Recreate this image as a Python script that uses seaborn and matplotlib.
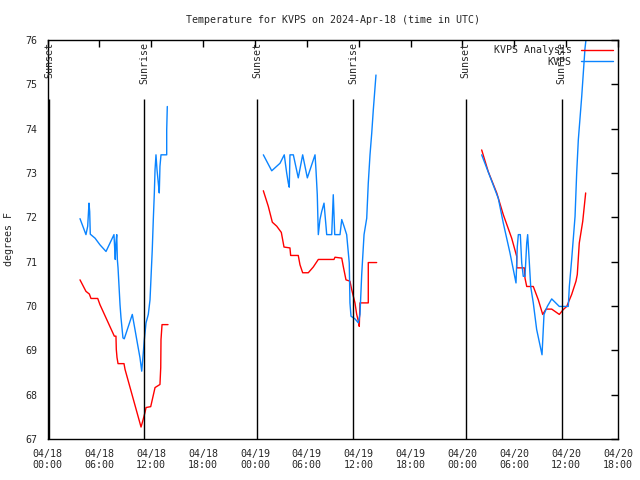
import numpy as np
import pandas as pd
import matplotlib
matplotlib.use("Agg")
import matplotlib.pyplot as plt
import matplotlib.dates as mdates
import seaborn as sns

# hours since 2024-04-18 00:00 UTC, temperatures in degrees F
obs_seg1_h = [3.76, 4.45, 4.65, 4.80, 4.88, 4.95, 5.50, 6.07, 6.77, 7.69, 7.77, 7.84, 7.92, 8.01, 8.08, 8.16,
              8.39, 8.50, 8.73, 8.88, 9.81, 10.12, 10.39, 10.70, 10.90, 11.08, 11.20, 11.40, 11.66, 11.86,
              12.12, 12.24, 12.36, 12.44, 12.55, 12.67, 12.82, 12.93, 13.01, 13.13, 13.79, 13.79, 13.86]
obs_seg1_t = [71.97, 71.61, 71.80, 72.32, 72.13, 71.62, 71.53, 71.38, 71.23, 71.61, 71.31, 71.05, 71.43, 71.61,
              71.05, 70.86, 70.03, 69.74, 69.28, 69.26, 69.81, 69.47, 69.17, 68.83, 68.53, 68.94, 69.24, 69.62,
              69.81, 70.14, 71.27, 71.95, 72.55, 73.07, 73.41, 73.07, 72.77, 72.55, 73.15, 73.41, 73.41, 73.97, 74.50]
obs_seg2_h = [24.97, 25.94, 26.90, 27.39, 27.67, 27.86, 27.97, 28.05, 28.44, 29.01, 29.52, 30.06, 30.95, 31.06,
              31.21, 31.33, 31.52, 31.72, 31.99, 32.22, 32.30, 32.88, 33.06, 33.23, 33.84, 34.04, 34.30, 34.61,
              34.91, 34.99, 35.11, 35.57, 35.96, 36.15, 36.35, 36.62, 36.93, 37.11, 37.31, 37.51, 37.69, 38.00]
obs_seg2_t = [73.41, 73.05, 73.22, 73.41, 73.00, 72.77, 72.68, 73.41, 73.41, 72.89, 73.41, 72.89, 73.41, 73.07,
              72.51, 71.61, 71.95, 72.13, 72.32, 71.80, 71.61, 71.61, 72.51, 71.61, 71.61, 71.95, 71.80, 71.61,
              70.97, 70.07, 69.77, 69.71, 69.62, 69.81, 70.71, 71.61, 71.98, 72.77, 73.41, 73.90, 74.42, 75.21]
obs_seg3_h = [50.23, 51.19, 52.15, 52.73, 53.50, 54.20, 54.35, 54.47, 54.70, 54.86, 55.04, 55.24, 55.44, 55.55,
              55.70, 55.90, 56.20, 56.59, 57.21, 57.44, 57.82, 58.33, 59.21, 60.07, 60.25, 60.37, 60.64, 61.03,
              61.22, 61.41, 61.80, 62.18, 62.36]
obs_seg3_t = [73.41, 72.92, 72.43, 71.87, 71.20, 70.52, 71.34, 71.61, 71.61, 70.97, 70.67, 70.67, 71.42, 71.61,
              71.12, 70.44, 70.07, 69.47, 68.90, 69.81, 69.99, 70.16, 69.99, 69.99, 69.99, 70.44, 71.05, 72.02,
              73.00, 73.75, 74.72, 75.81, 76.11]

ana_seg1_h = [3.76, 4.45, 4.84, 5.03, 5.81, 6.07, 7.73, 7.92, 7.96, 8.04, 8.16, 8.85, 8.97, 10.82, 10.97, 11.28,
              11.40, 11.94, 12.44, 13.01, 13.10, 13.13, 13.25, 13.94]
ana_seg1_t = [70.59, 70.33, 70.27, 70.17, 70.17, 70.03, 69.32, 69.32, 69.02, 68.84, 68.70, 68.70, 68.57, 67.27,
              67.37, 67.60, 67.71, 67.73, 68.16, 68.23, 68.61, 69.24, 69.58, 69.58]
ana_seg2_h = [24.97, 25.54, 26.01, 26.52, 27.05, 27.36, 28.05, 28.13, 29.01, 29.21, 29.52, 30.17, 30.75, 31.33,
              33.14, 33.26, 34.04, 34.22, 34.53, 34.99, 35.19, 35.38, 35.57, 35.77, 35.96, 36.07, 36.15, 37.11,
              37.11, 38.08]
ana_seg2_t = [72.60, 72.25, 71.89, 71.80, 71.66, 71.33, 71.31, 71.14, 71.14, 70.93, 70.75, 70.75, 70.88, 71.05,
              71.05, 71.10, 71.08, 70.89, 70.59, 70.56, 70.37, 70.22, 70.07, 69.81, 69.66, 69.54, 70.07, 70.07,
              70.98, 70.98]
ana_seg3_h = [50.23, 50.99, 51.97, 52.73, 53.70, 54.28, 54.28, 55.16, 55.24, 55.44, 56.20, 56.78, 57.29, 57.67,
              58.33, 59.21, 59.67, 60.07, 60.64, 61.14, 61.29, 61.52, 61.92, 62.26]
ana_seg3_t = [73.52, 73.03, 72.55, 72.06, 71.53, 71.12, 70.86, 70.86, 70.63, 70.44, 70.44, 70.14, 69.81, 69.93,
              69.93, 69.81, 69.92, 69.99, 70.26, 70.56, 70.71, 71.42, 71.91, 72.55]

sunset_h = [0.2, 24.23, 48.4]
sunrise_h = [11.2, 35.34, 59.5]

series_names = ["KVPS Analysis", "KVPS"]
colors = {"KVPS Analysis": "#ff0000", "KVPS": "#0a84ff"}

base = pd.Timestamp("2024-04-18 00:00")

def to_time(hours):
    return [base + pd.Timedelta(hours=h) for h in hours]

frames = []
for name, segs in [("KVPS Analysis", [(ana_seg1_h, ana_seg1_t), (ana_seg2_h, ana_seg2_t), (ana_seg3_h, ana_seg3_t)]),
                   ("KVPS", [(obs_seg1_h, obs_seg1_t), (obs_seg2_h, obs_seg2_t), (obs_seg3_h, obs_seg3_t)])]:
    for i, (h, t) in enumerate(segs):
        frames.append(pd.DataFrame({"time": to_time(h), "temp": t, "series": name, "seg": f"{name}{i}"}))
df = pd.concat(frames, ignore_index=True)

sns.set_style("white")
plt.rcParams["font.family"] = ["DejaVu Sans Mono"]
FS = 7.2
plt.rcParams["font.size"] = FS

fig = plt.figure(figsize=(6.4, 4.8), dpi=100)
ax = fig.add_axes([47.5 / 640, 1 - 439 / 480, (618 - 47.5) / 640, (439 - 40) / 480])

sns.lineplot(data=df, x="time", y="temp", hue="series", hue_order=series_names, palette=colors,
             units="seg", estimator=None, sort=False, linewidth=1.0, ax=ax)

ax.set_xlim(base, base + pd.Timedelta(hours=66))
ax.set_ylim(67, 76)
ax.set_yticks(np.arange(67, 77, 1))
ax.xaxis.set_major_locator(mdates.HourLocator(byhour=[0, 6, 12, 18]))
ax.xaxis.set_major_formatter(mdates.DateFormatter("%m/%d\n%H:%M"))

for h in sunset_h:
    t = base + pd.Timedelta(hours=h)
    ax.vlines(t, 67, 74.68, color="black", linewidth=1.0)
    ax.text(t, 75.95, "Sunset", rotation=90, ha="center", va="top", fontsize=FS)
for h in sunrise_h:
    t = base + pd.Timedelta(hours=h)
    ax.vlines(t, 67, 74.68, color="black", linewidth=1.0)
    ax.text(t, 75.95, "Sunrise", rotation=90, ha="center", va="top", fontsize=FS)

ax.tick_params(direction="in", length=5, width=1, top=True, right=True, labelsize=FS, color="black")
ax.tick_params(axis="x", pad=7)
ax.tick_params(axis="y", pad=7)
for s in ax.spines.values():
    s.set_color("black")
    s.set_linewidth(1.0)

ax.set_xlabel("")
ax.set_ylabel("degrees F", fontsize=FS)
ax.yaxis.set_label_coords(-0.058, 0.5)
ax.set_title("Temperature for KVPS on 2024-Apr-18 (time in UTC)", fontsize=FS, pad=12)

leg = ax.legend(loc="upper right", frameon=False, markerfirst=False, handlelength=3.2,
                borderaxespad=0.15, labelspacing=0.15, handletextpad=0.9, fontsize=FS)
for t in leg.get_texts():
    t.set_horizontalalignment("right")

fig.savefig("out.png", dpi=100)
